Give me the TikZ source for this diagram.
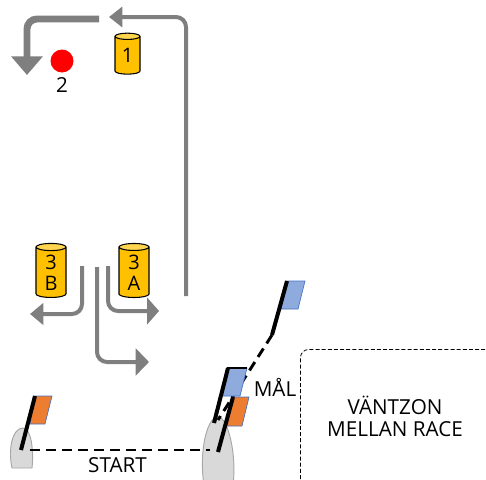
\documentclass[tikz,border=0pt]{standalone}
\usepackage{fontspec}
\setmainfont{Open Sans}
\usetikzlibrary{arrows.meta,shapes.geometric}
\definecolor{arrowgray}{HTML}{7F7F7F}
\definecolor{canyellow}{HTML}{FFC000}
\definecolor{cantop}{HTML}{FFD54F}
\definecolor{flagblue}{HTML}{8FAADC}
\definecolor{flagorange}{HTML}{ED7D31}
\definecolor{flagedge}{HTML}{4472C4}
\definecolor{boatgray}{HTML}{D9D9D9}
\definecolor{boatedge}{HTML}{A6A6A6}
\tikzset{
  can/.style={cylinder,shape border rotate=90,aspect=0.55,draw=black,line width=0.8pt,
    cylinder uses custom fill,cylinder body fill=canyellow,cylinder end fill=cantop,
    inner sep=0pt,align=center,font=\fontsize{15}{17}\selectfont},
  course/.style={draw=arrowgray,rounded corners=7.5pt,line width=3pt},
  pole/.style={draw=black,line width=3pt},
  line/.style={draw=black,line width=2.2pt,dash pattern=on 7.5pt off 4.5pt},
  flagb/.style={fill=flagblue,draw=flagedge,line width=0.5pt},
  flago/.style={fill=flagorange,draw=flagedge,line width=0.5pt},
  boat/.style={fill=boatgray,draw=boatedge,line width=0.7pt},
  lab/.style={font=\fontsize{15.5}{18}\selectfont,inner sep=0pt,align=center}
}
\begin{document}
\begin{tikzpicture}[x=0.75pt,y=-0.75pt]
\useasboundingbox (0,0) rectangle (486,479);
% waiting zone
\draw[black,line width=0.6pt,dash pattern=on 3pt off 1.6pt,rounded corners=6pt]
  (300.5,479) -- (300.5,349.5) -- (492,349.5);
% boats
\filldraw[boat] (12,468) .. controls (8,450) and (12,428) .. (23,428) .. controls (31,428) and (34,450) .. (32,468) -- cycle;
\filldraw[boat] (204,485) .. controls (199,455) and (206,417) .. (218,417) .. controls (228,417) and (237,455) .. (233,485) -- cycle;
% finish and start lines
\coordinate (startL) at (30,450);
\coordinate (boatR) at (210,450);
\coordinate (finT) at (272,335);
\coordinate (finB) at (218,420);
\draw[line] (startL) -- (boatR);
\draw[line] (finT) -- (finB);
% flags
\filldraw[flagb] (287,281) -- (305,281) -- (298,309) -- (281,309) -- cycle;
\draw[pole] (287,281) -- (finT);
\filldraw[flago] (233,397) -- (249,397) -- (242,426) -- (227,426) -- cycle;
\filldraw[flagb] (228,368) -- (247,368) -- (240,396) -- (222,396) -- cycle;
\draw[pole] (228,368) -- (214,423);
\draw[draw=black,line width=2pt] (227,368) -- (247,368);
\draw[pole] (233,397) -- (218,452);
\filldraw[flago] (35,396) -- (52,396) -- (45,424) -- (30,424) -- cycle;
\draw[pole] (35,396) -- (21,450);
% marks
\node[can,minimum width=25*0.75pt,minimum height=41*0.75pt] (m1) at (127.5,55.5) {1};
\node[can,minimum width=30*0.75pt,minimum height=54*0.75pt] (m3b) at (51,272.5) {3\\[-1pt]B};
\node[can,minimum width=30*0.75pt,minimum height=54*0.75pt] (m3a) at (134,272.5) {3\\[-1pt]A};
\node[circle,fill=red,minimum size=23*0.75pt,inner sep=0pt] (m2) at (62,61) {};
\node[lab] (n2) at (62,85) {2};
% course arrows
\coordinate (a1s) at (186,296); \coordinate (a1c) at (186,17); \coordinate (a1e) at (109,17);
\draw[course,line width=3pt,-{Triangle[length=10pt,width=15pt]}] (a1s) -- (a1c) -- (a1e);
\coordinate (a2s) at (99,19); \coordinate (a2c) at (27,19); \coordinate (a2e) at (27,75);
\draw[course,line width=5.2pt,-{Triangle[length=14pt,width=23pt]}] (a2s) -- (a2c) -- (a2e);
\coordinate (a3s) at (82,266); \coordinate (a3c) at (82,314); \coordinate (a3e) at (30,314);
\draw[course,-{Triangle[length=10pt,width=16pt]}] (a3s) -- (a3c) -- (a3e);
\coordinate (a4s) at (97,267); \coordinate (a4c) at (97,362); \coordinate (a4e) at (149,362);
\draw[course,-{Triangle[length=10pt,width=20pt]}] (a4s) -- (a4c) -- (a4e);
\coordinate (a5s) at (108,266); \coordinate (a5c) at (108,311); \coordinate (a5e) at (159,311);
\draw[course,-{Triangle[length=9pt,width=20pt]}] (a5s) -- (a5c) -- (a5e);
% labels
\node[lab] (start) at (117.5,465) {START};
\node[lab] (mal) at (275,387) {MÅL};
\node[lab] (v1) at (395,405) {VÄNTZON};
\node[lab] (v2) at (395,429) {MELLAN RACE};
\end{tikzpicture}
\end{document}
